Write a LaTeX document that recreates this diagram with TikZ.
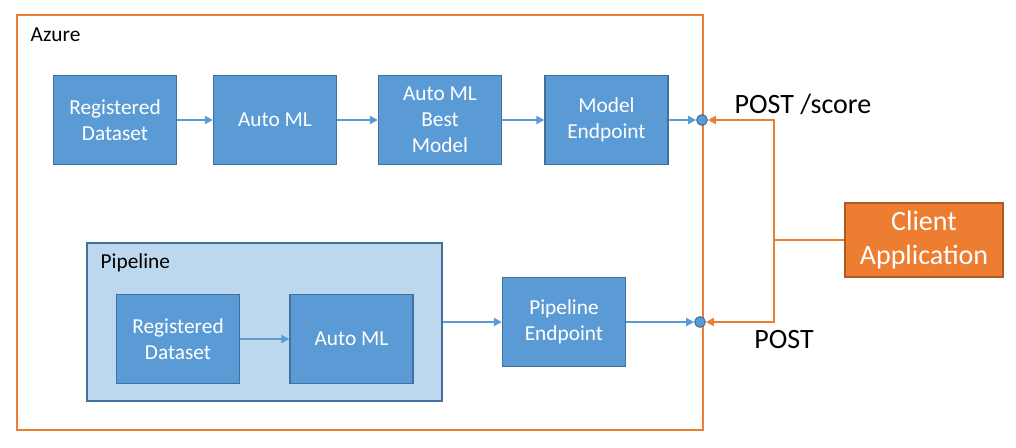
\documentclass[tikz,border=0pt]{standalone}
\usepackage{fontspec}
\setmainfont{Carlito}
\usepackage{tikz}
\usetikzlibrary{arrows.meta}

\definecolor{boxblue}{HTML}{5B9BD5}
\definecolor{edgeblue}{HTML}{41719C}
\definecolor{paleblue}{HTML}{BDD7EE}
\definecolor{azorange}{HTML}{ED7D31}
\definecolor{darkorange}{HTML}{AE5A21}

\begin{document}
\begin{tikzpicture}[x=0.75pt,y=-0.75pt,
  stepbox/.style={draw=edgeblue,line width=1.2pt,fill=boxblue,text=white,align=center,
    minimum width=92pt,minimum height=67pt,font=\fontsize{16}{19.5}\selectfont},
  flow/.style={draw=boxblue,line width=1.5pt,-{Triangle[length=6pt,width=6pt]}},
  call/.style={draw=azorange,line width=1.5pt},
  dot/.style={circle,draw=edgeblue,line width=0.8pt,fill=boxblue,inner sep=0pt,minimum size=8pt}]
\useasboundingbox (0,0) rectangle (1016,447);
\node[draw=azorange,line width=1.5pt,minimum width=514.5pt,minimum height=311.25pt] (azure) at (360,222.5) {};
\node[anchor=west,font=\fontsize{16}{19.5}\selectfont] (azlabel) at (26,35) {Azure};
\node[draw=edgeblue,line width=1.2pt,fill=paleblue,minimum width=266.25pt,minimum height=118.5pt] (pipe) at (264.5,322) {};
\node[anchor=west,font=\fontsize{16}{19.5}\selectfont] (pipelabel) at (96,263) {Pipeline};
% top row
\node[stepbox] (data) at (115,120) {Registered\\Dataset};
\node[stepbox,minimum height=67pt] (automl) at (275,120) {Auto ML};
\node[stepbox] (best) at (440,120) {Auto ML\\Best\\Model};
\node[stepbox] (endpt) at (606.5,120) {Model\\Endpoint};
\node[dot] (mdot) at (702,120) {};
\draw[flow] (data) -- (automl);
\draw[flow] (automl) -- (best);
\draw[flow] (best) -- (endpt);
\draw[flow] (endpt) -- (mdot.west);
% pipeline row
\node[stepbox] (pdata) at (178,339) {Registered\\Dataset};
\node[stepbox] (pauto) at (351.5,339) {Auto ML};
\node[stepbox] (pendpt) at (564,322) {Pipeline\\Endpoint};
\node[dot] (pdot) at (700,322) {};
\draw[flow] (pdata) -- (pauto);
\draw[flow] (pipe.east |- pendpt) -- (pendpt.west);
\draw[flow] (pendpt) -- (pdot.west);
% client
\node[draw=darkorange,line width=1.2pt,fill=azorange,text=white,align=center,
  minimum width=118.5pt,minimum height=55.5pt,font=\fontsize{21}{25}\selectfont] (client) at (924,240) {Client\\Application};
\draw[call] (client.west) -- ++(-70,0) coordinate (bus);
\draw[call,-{Triangle[length=6pt,width=6pt]}] (bus) |- (mdot.east);
\draw[call,-{Triangle[length=6pt,width=6pt]}] (bus) |- (pdot.east);
\node[font=\fontsize{21}{25}\selectfont] (score) at (803,104) {POST /score};
\node[font=\fontsize{21}{25}\selectfont] (post) at (784,340) {POST};
\end{tikzpicture}
\end{document}
